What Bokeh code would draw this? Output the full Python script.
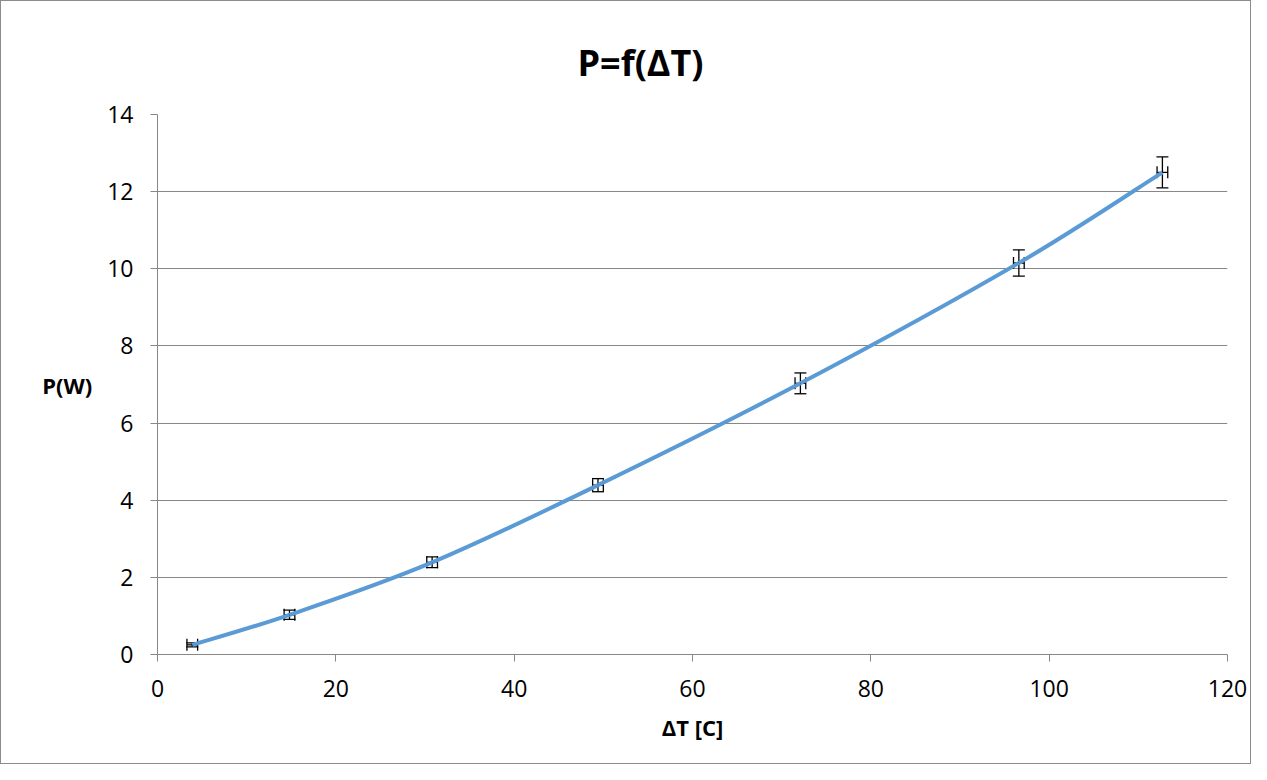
from bokeh.plotting import figure
from bokeh.models import ColumnDataSource, Whisker, TeeHead, FixedTicker, Title
from bokeh.embed import file_html
from bokeh.resources import INLINE

# ---- data ----
dT = [3.9, 14.8, 30.8, 49.4, 72.1, 96.6, 112.7]
P = [0.25, 1.03, 2.39, 4.39, 7.03, 10.15, 12.5]
dT_err = [0.6, 0.6, 0.6, 0.6, 0.6, 0.6, 0.6]
P_err = [0.05, 0.12, 0.14, 0.17, 0.27, 0.34, 0.40]
x_ticks = [0, 20, 40, 60, 80, 100, 120]
y_ticks = [0, 2, 4, 6, 8, 10, 12, 14]
title_text = "P=f(\u0394T)"
x_label = "\u0394T [C]"
y_label = "P(W)"

FONT = "Open Sans"
GRAY = "#878787"

W, H = 1251, 764
p = figure(width=W, height=H, x_range=(0, 120), y_range=(0, 14),
           output_backend="svg", toolbar_location=None,
           min_border_left=156, min_border_right=25,
           min_border_top=113, min_border_bottom=111)
p.styles = {"border": "1px solid #8c8c8c"}
p.outline_line_color = None
p.background_fill_color = "white"
p.border_fill_color = "white"

# title
p.add_layout(Title(text=title_text, text_font=FONT, text_font_size="36px",
                   text_font_style="bold", text_color="black",
                   align="left", offset=420, vertical_align="top",
                   standoff=52), "above")

# smooth (Catmull-Rom / Excel style) curve through the data via bezier segments
n = len(dT)
x0, y0, x1, y1, cx0, cy0, cx1, cy1 = [], [], [], [], [], [], [], []
for i in range(n - 1):
    im = max(i - 1, 0)
    ip2 = min(i + 2, n - 1)
    x0.append(dT[i]); y0.append(P[i])
    x1.append(dT[i + 1]); y1.append(P[i + 1])
    cx0.append(dT[i] + (dT[i + 1] - dT[im]) / 6.0)
    cy0.append(P[i] + (P[i + 1] - P[im]) / 6.0)
    cx1.append(dT[i + 1] - (dT[ip2] - dT[i]) / 6.0)
    cy1.append(P[i + 1] - (P[ip2] - P[i]) / 6.0)
p.bezier(x0=x0, y0=y0, x1=x1, y1=y1, cx0=cx0, cy0=cy0, cx1=cx1, cy1=cy1,
         line_color="#5B9BD5", line_width=4)

src = ColumnDataSource(dict(
    x=dT, y=P,
    ylo=[a - b for a, b in zip(P, P_err)], yhi=[a + b for a, b in zip(P, P_err)],
    xlo=[a - b for a, b in zip(dT, dT_err)], xhi=[a + b for a, b in zip(dT, dT_err)],
))
wy = Whisker(source=src, base="x", lower="ylo", upper="yhi", dimension="height",
             line_color="black", line_width=1.3,
             upper_head=TeeHead(size=12, line_color="black", line_width=1.3),
             lower_head=TeeHead(size=12, line_color="black", line_width=1.3))
wx = Whisker(source=src, base="y", lower="xlo", upper="xhi", dimension="width",
             line_color="black", line_width=1.3,
             upper_head=TeeHead(size=12, line_color="black", line_width=1.3),
             lower_head=TeeHead(size=12, line_color="black", line_width=1.3))
p.add_layout(wy)
p.add_layout(wx)

# axes
for ax in (p.xaxis[0], p.yaxis[0]):
    ax.axis_line_color = GRAY
    ax.axis_line_width = 1
    ax.major_tick_line_color = GRAY
    ax.major_tick_out = 7
    ax.major_tick_in = 0
    ax.minor_tick_line_color = None
    ax.major_label_text_font = FONT
    ax.major_label_text_font_size = "23px"
    ax.major_label_text_color = "black"
    ax.axis_label_text_font = FONT
    ax.axis_label_text_font_size = "22px"
    ax.axis_label_text_font_style = "bold"
    ax.axis_label_text_color = "black"

p.xaxis.ticker = FixedTicker(ticks=x_ticks)
p.yaxis.ticker = FixedTicker(ticks=y_ticks)
p.xaxis.axis_label = x_label
p.yaxis.axis_label = y_label
p.yaxis.axis_label_orientation = "horizontal"
p.xaxis.major_label_standoff = 18
p.yaxis.major_label_standoff = 17
p.xaxis.axis_label_standoff = 12
p.yaxis.axis_label_standoff = 12

p.xgrid.grid_line_color = None
p.ygrid.grid_line_color = GRAY
p.ygrid.grid_line_width = 1

open("out.html", "w").write(file_html(p, INLINE))
